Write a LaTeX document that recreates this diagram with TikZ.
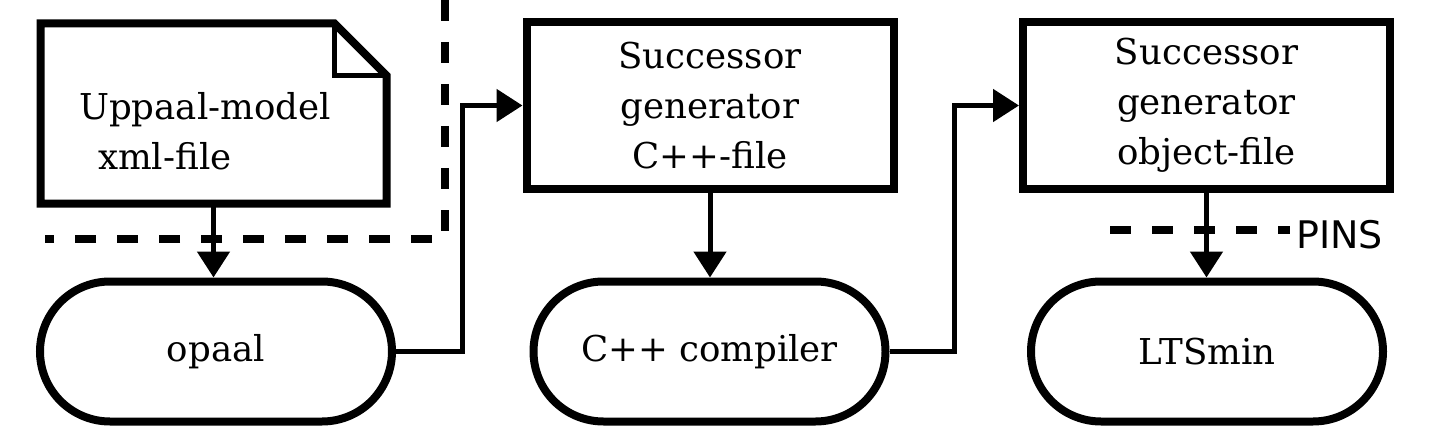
\documentclass[tikz,border=0pt]{standalone}
\usepackage{fontspec}
\setmainfont{DejaVu Serif}
\setsansfont{DejaVu Sans}
\usetikzlibrary{arrows.meta,shapes.misc}

\def\foldsize{26pt}

\begin{document}
\begin{tikzpicture}[x=0.5pt,y=-0.5pt,font=\fontsize{17.8}{25}\selectfont]
    \tikzstyle{docbox}=[rectangle,minimum width=173pt,minimum height=90pt,inner sep=0pt,outer sep=0pt]
    \tikzstyle{docline}=[line width=4pt,line join=miter]
    \tikzstyle{fold}=[line width=2.2pt]
    \tikzstyle{block}=[rectangle,draw,line width=4pt,minimum width=183.5pt,minimum height=83pt,align=center,inner sep=0pt]
    \tikzstyle{tool}=[rounded rectangle,draw,line width=4pt,minimum width=176pt,minimum height=70pt,inner sep=0pt]
    \tikzstyle{flow}=[line width=2.5pt,-{Triangle[width=16pt,length=13pt]}]
    \tikzstyle{border}=[line width=4.3pt,dash pattern=on 10.5pt off 10.5pt]

    \useasboundingbox (0,0) rectangle (1430,444);

    % input file
    \node[docbox] (doc) at (213.5,113.5) {};
    \draw[docline] (doc.north west) -- ([xshift=-\foldsize]doc.north east) -- ([yshift=-\foldsize]doc.north east) -- (doc.south east) -- (doc.south west) -- cycle;
    \draw[fold] ([xshift=-\foldsize]doc.north east) |- ([yshift=-\foldsize]doc.north east);
    \node[align=left] (doctext) at (205,131) {Uppaal-model\\\hspace{9.5pt}xml-file};

    % generated files
    \node[block] (gencpp) at (710,105.5) {Successor\\generator\\C++-file};
    \node[block] (genobj) at (1206.5,105.5) {Successor\\generator\\object-file};

    % tools
    \node[tool] (opaal) at (216,351.5) {opaal};
    \node[tool] (compiler) at (709.5,351.5) {C++ compiler};
    \node[tool] (ltsmin) at (1207,351.5) {LTSmin};

    % dashed borders
    \coordinate (edgetop) at (445,0);
    \coordinate (edgecorner) at (445,239);
    \coordinate (edgeleft) at (45,239);
    \draw[border] (edgetop) -- (edgecorner) -- (edgeleft);
    \coordinate (pinsleft) at (1110,230);
    \coordinate (pinsright) at (1290,230);
    \draw[border] (pinsleft) -- (pinsright);
    \node[font=\sffamily\fontsize{19}{19}\selectfont,anchor=west,inner sep=0pt] (pins) at (1296,234.5) {PINS};

    % flow
    \draw[flow] (doc.south) -- (doc.south |- opaal.north);
    \draw[flow] (opaal.east) -- ++(66,0) |- (gencpp.west);
    \draw[flow] (gencpp.south) -- (gencpp.south |- compiler.north);
    \draw[flow] (compiler.east) -- ++(65,0) |- (genobj.west);
    \draw[flow] (genobj.south) -- (genobj.south |- ltsmin.north);
\end{tikzpicture}
\end{document}
